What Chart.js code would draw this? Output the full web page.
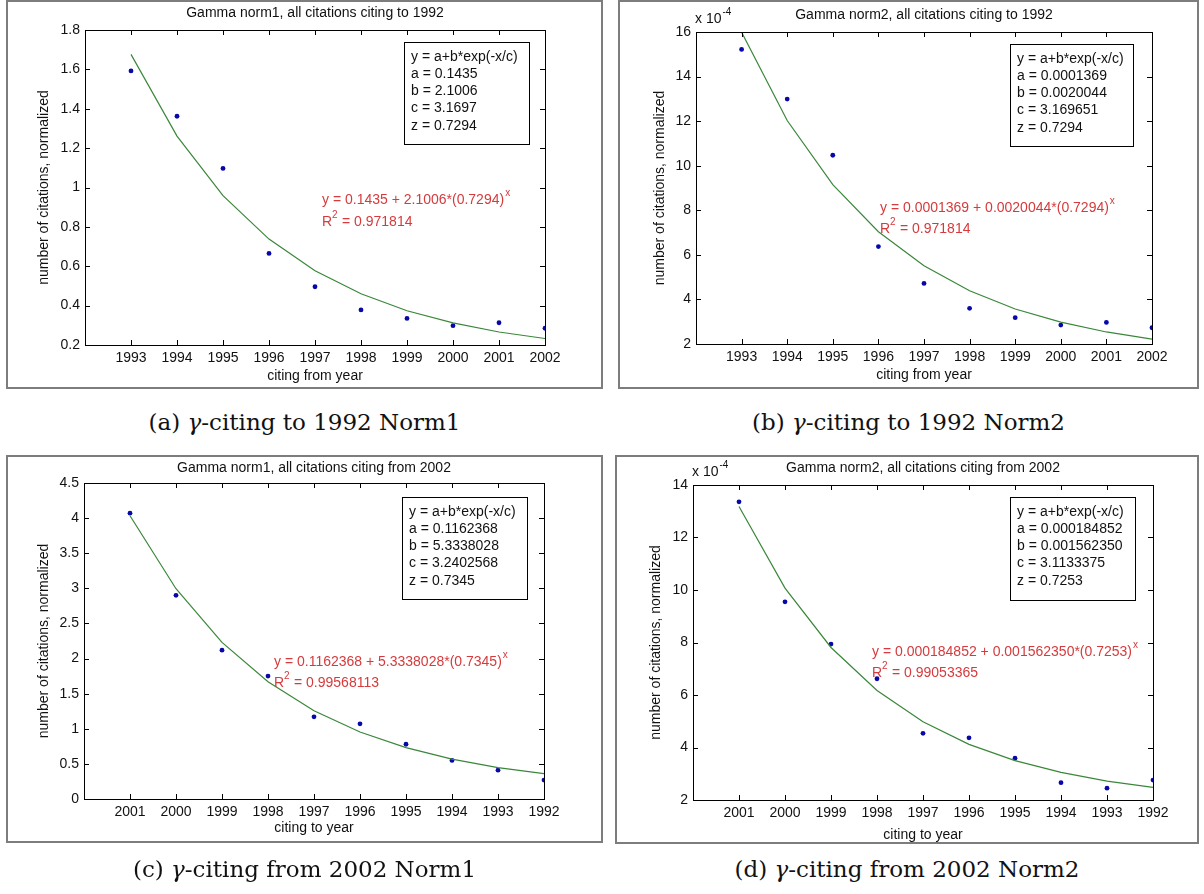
<!DOCTYPE html>
<html>
<head>
<meta charset="utf-8">
<script src="https://cdn.jsdelivr.net/npm/chart.js@4.4.1/dist/chart.umd.min.js"></script>
<style>
  body { margin: 0; background: #fff; width: 1204px; height: 894px; overflow: hidden; position: relative; }
  canvas { position: absolute; }
  .frame { position: absolute; box-sizing: border-box; border: 2px solid #7d7d7d; pointer-events: none; }
  .cap { position: absolute; width: 600px; margin-left: -300px; text-align: center; white-space: nowrap;
         font-family: "DejaVu Serif", serif; font-size: 23px; line-height: 23px; color: #111; }
</style>
</head>
<body>
<script>
// years on the x axes
const yearsFrom1993 = [1993, 1994, 1995, 1996, 1997, 1998, 1999, 2000, 2001, 2002];
const yearsTo2001 = [2001, 2000, 1999, 1998, 1997, 1996, 1995, 1994, 1993, 1992];

// (a) norm1, citing to 1992
const norm1To1992 = [1.592, 1.362, 1.097, 0.665, 0.496, 0.378, 0.335, 0.298, 0.313, 0.285];
const norm1To1992Fit = [1.676, 1.261, 0.959, 0.738, 0.577, 0.460, 0.374, 0.312, 0.266, 0.233];
// (b) norm2, citing to 1992 (units of 1e-4)
const norm2To1992 = [15.22, 12.99, 10.47, 6.37, 4.72, 3.60, 3.18, 2.85, 2.97, 2.73];
const norm2To1992Fit = [15.99, 12.03, 9.15, 7.04, 5.51, 4.39, 3.57, 2.98, 2.54, 2.22];
// (c) norm1, citing from 2002
const norm1From2002 = [4.07, 2.90, 2.12, 1.75, 1.17, 1.07, 0.78, 0.55, 0.41, 0.27];
const norm1From2002Fit = [4.034, 2.994, 2.230, 1.669, 1.256, 0.954, 0.731, 0.568, 0.448, 0.360];
// (d) norm2, citing from 2002 (units of 1e-4)
const norm2From2002 = [13.36, 9.55, 7.94, 6.62, 4.54, 4.37, 3.59, 2.66, 2.45, 2.76];
const norm2From2002Fit = [13.18, 10.07, 7.81, 6.17, 4.98, 4.12, 3.50, 3.05, 2.72, 2.48];

// y tick labels
const yTicksA = [0.2, 0.4, 0.6, 0.8, 1, 1.2, 1.4, 1.6, 1.8];
const yTicksB = [2, 4, 6, 8, 10, 12, 14, 16];
const yTicksC = [0, 0.5, 1, 1.5, 2, 2.5, 3, 3.5, 4, 4.5];
const yTicksD = [2, 4, 6, 8, 10, 12, 14];

// fit text
const fitA = ['y = a+b*exp(-x/c)', 'a = 0.1435', 'b = 2.1006', 'c = 3.1697', 'z = 0.7294'];
const fitB = ['y = a+b*exp(-x/c)', 'a = 0.0001369', 'b = 0.0020044', 'c = 3.169651', 'z = 0.7294'];
const fitC = ['y = a+b*exp(-x/c)', 'a = 0.1162368', 'b = 5.3338028', 'c = 3.2402568', 'z = 0.7345'];
const fitD = ['y = a+b*exp(-x/c)', 'a = 0.000184852', 'b = 0.001562350', 'c = 3.1133375', 'z = 0.7253'];
const eqA = ['y = 0.1435 + 2.1006*(0.7294)', '0.971814'];
const eqB = ['y = 0.0001369 + 0.0020044*(0.7294)', '0.971814'];
const eqC = ['y = 0.1162368 + 5.3338028*(0.7345)', '0.99568113'];
const eqD = ['y = 0.000184852 + 0.001562350*(0.7253)', '0.99053365'];

const FONT = '"Liberation Sans", Arial, Helvetica, sans-serif';
const RED = '#d63a3c';

const matlab = {
  id: 'matlab',
  afterDraw(chart, args, o) {
    const { ctx, chartArea: a, scales: { x, y } } = chart;
    ctx.save();
    ctx.strokeStyle = '#000';
    ctx.lineWidth = 1;
    ctx.beginPath();
    x.ticks.forEach(t => {
      const px = Math.round(x.getPixelForValue(t.value)) + 0.5;
      ctx.moveTo(px, a.bottom); ctx.lineTo(px, a.bottom - 5);
      ctx.moveTo(px, a.top); ctx.lineTo(px, a.top + 5);
    });
    y.ticks.forEach(t => {
      const py = Math.round(y.getPixelForValue(t.value)) + 0.5;
      ctx.moveTo(a.left, py); ctx.lineTo(a.left + 5, py);
      ctx.moveTo(a.right, py); ctx.lineTo(a.right - 5, py);
    });
    ctx.stroke();
    ctx.strokeRect(Math.round(a.left) + 0.5, Math.round(a.top) + 0.5,
      Math.round(a.right - a.left), Math.round(a.bottom - a.top));

    ctx.fillStyle = '#111';
    ctx.font = '14px ' + FONT;
    ctx.textAlign = 'center';
    ctx.textBaseline = 'middle';
    const cx = (a.left + a.right) / 2;
    ctx.fillText(o.title, cx, a.top - o.titleGap);
    ctx.fillText(o.xlabel, cx, a.bottom + o.xlabelGap);
    ctx.save();
    ctx.translate(a.left - o.ylabelGap, (a.top + a.bottom) / 2);
    ctx.rotate(-Math.PI / 2);
    ctx.fillText(o.ylabel, 0, 0);
    ctx.restore();

    ctx.textAlign = 'left';
    ctx.textBaseline = 'alphabetic';
    if (o.exponent) {
      const [ex, ey] = o.exponent;
      ctx.fillText('x 10', ex, ey);
      const w = ctx.measureText('x 10').width;
      ctx.font = '10px ' + FONT;
      ctx.fillText('-4', ex + w + 1, ey - 8);
      ctx.font = '14px ' + FONT;
    }

    // fit box
    const [bl, bt, br, bb] = o.box;
    ctx.fillStyle = '#fff';
    ctx.fillRect(bl, bt, br - bl, bb - bt);
    ctx.strokeRect(bl + 0.5, bt + 0.5, br - bl, bb - bt);
    ctx.fillStyle = '#111';
    ctx.textBaseline = 'middle';
    o.fit.forEach((s, i) => ctx.fillText(s, bl + 7, bt + 15 + i * 17.2));

    // red equation
    const [rx, r1, r2] = o.eqPos;
    ctx.textBaseline = 'alphabetic';
    ctx.fillStyle = RED;
    ctx.fillText(o.eq[0], rx, r1);
    let w = ctx.measureText(o.eq[0]).width;
    ctx.font = '10px ' + FONT;
    ctx.fillText('x', rx + w + 1, r1 - 8);
    ctx.font = '14px ' + FONT;
    ctx.fillText('R', rx, r2);
    w = ctx.measureText('R').width;
    ctx.font = '10px ' + FONT;
    ctx.fillText('2', rx + w, r2 - 8);
    ctx.font = '14px ' + FONT;
    ctx.fillText(' = ' + o.eq[1], rx + w + 6, r2);
    ctx.restore();
  }
};

const pts = (xs, ys) => xs.map((v, i) => ({ x: v, y: ys[i] }));

function panel(p) {
  const fw = p.frame.r - p.frame.l, fh = p.frame.b - p.frame.t;
  const cv = document.createElement('canvas');
  cv.width = fw; cv.height = fh;
  cv.style.left = p.frame.l + 'px'; cv.style.top = p.frame.t + 'px';
  document.body.appendChild(cv);
  const fr = document.createElement('div');
  fr.className = 'frame';
  Object.assign(fr.style, { left: p.frame.l + 'px', top: p.frame.t + 'px', width: fw + 'px', height: fh + 'px' });
  document.body.appendChild(fr);
  const cap = document.createElement('div');
  cap.className = 'cap';
  cap.innerHTML = p.caption;
  cap.style.left = p.capPos[0] + 'px'; cap.style.top = p.capPos[1] + 'px';
  document.body.appendChild(cap);

  const tickFont = { family: FONT, size: 14 };
  const o = p.opts;
  o.box = o.box.map((v, i) => v - (i % 2 ? p.frame.t : p.frame.l));
  o.eqPos = [o.eqPos[0] - p.frame.l, o.eqPos[1] - p.frame.t, o.eqPos[2] - p.frame.t];
  if (o.exponent) o.exponent = [o.exponent[0] - p.frame.l, o.exponent[1] - p.frame.t];

  new Chart(cv.getContext('2d'), {
    type: 'scatter',
    data: {
      datasets: [
        {
          type: 'line', data: pts(p.years, p.fit), borderColor: '#3a873a', borderWidth: 1.2,
          pointRadius: 0, tension: 0, fill: false,
        },
        {
          data: pts(p.years, p.values), backgroundColor: '#0808a8', borderColor: '#0808a8',
          pointRadius: 2.4, borderWidth: 0,
        },
      ],
    },
    options: {
      responsive: false,
      animation: false,
      devicePixelRatio: 1,
      events: [],
      layout: { padding: { top: p.plot.t - p.frame.t, right: p.frame.r - p.plot.r, left: 0, bottom: 0 } },
      plugins: { legend: { display: false }, tooltip: { enabled: false }, matlab: o },
      scales: {
        x: {
          type: 'linear', min: 1992, max: 2002, reverse: p.reverse,
          grid: { display: false, drawTicks: false, tickLength: 0 },
          border: { display: false },
          afterBuildTicks: s => { s.ticks = p.years.slice().sort((m, n) => m - n).map(v => ({ value: v })); },
          afterFit: s => { s.height = p.frame.b - p.plot.b; },
          ticks: { autoSkip: false, maxRotation: 0, padding: 5, color: '#111', font: tickFont, callback: v => String(v) },
        },
        y: {
          min: p.yTicks[0], max: p.yTicks[p.yTicks.length - 1],
          grid: { display: false, drawTicks: false, tickLength: 0 },
          border: { display: false },
          afterBuildTicks: s => { s.ticks = p.yTicks.map(v => ({ value: v })); },
          afterFit: s => { s.width = p.plot.l - p.frame.l; },
          ticks: { autoSkip: false, padding: 5, color: '#111', font: tickFont, callback: v => String(parseFloat(v.toFixed(2))) },
        },
      },
    },
    plugins: [matlab],
  });
}

panel({
  frame: { l: 6, t: 0, r: 603, b: 389 }, plot: { l: 85, t: 30, r: 545, b: 345 },
  years: yearsFrom1993, values: norm1To1992, fit: norm1To1992Fit, yTicks: yTicksA, reverse: false,
  caption: '(a) <i>γ</i>-citing to 1992 Norm1', capPos: [304.5, 411],
  opts: {
    title: 'Gamma norm1, all citations citing to 1992', titleGap: 17,
    xlabel: 'citing from year', xlabelGap: 31, ylabel: 'number of citations, normalized', ylabelGap: 41,
    box: [404, 42, 529, 144], fit: fitA, eq: eqA, eqPos: [322, 204, 226],
  },
});
panel({
  frame: { l: 618, t: 0, r: 1199, b: 389 }, plot: { l: 696, t: 32, r: 1152, b: 344 },
  years: yearsFrom1993, values: norm2To1992, fit: norm2To1992Fit, yTicks: yTicksB, reverse: false,
  caption: '(b) <i>γ</i>-citing to 1992 Norm2', capPos: [908.5, 411],
  opts: {
    title: 'Gamma norm2, all citations citing to 1992', titleGap: 17,
    xlabel: 'citing from year', xlabelGap: 31, ylabel: 'number of citations, normalized', ylabelGap: 36,
    box: [1010, 44, 1133, 146], fit: fitB, eq: eqB, eqPos: [880, 212, 233], exponent: [695, 23],
  },
});
panel({
  frame: { l: 6, t: 455, r: 603, b: 843 }, plot: { l: 84, t: 483, r: 544, b: 799 },
  years: yearsTo2001, values: norm1From2002, fit: norm1From2002Fit, yTicks: yTicksC, reverse: true,
  caption: '(c) <i>γ</i>-citing from 2002 Norm1', capPos: [304.5, 858],
  opts: {
    title: 'Gamma norm1, all citations citing from 2002', titleGap: 15,
    xlabel: 'citing to year', xlabelGap: 29, ylabel: 'number of citations, normalized', ylabelGap: 40,
    box: [402, 497, 527, 599], fit: fitC, eq: eqC, eqPos: [274, 666, 687],
  },
});
panel({
  frame: { l: 615, t: 455, r: 1199, b: 844 }, plot: { l: 693, t: 485, r: 1153, b: 800 },
  years: yearsTo2001, values: norm2From2002, fit: norm2From2002Fit, yTicks: yTicksD, reverse: true,
  caption: '(d) <i>γ</i>-citing from 2002 Norm2', capPos: [907, 858],
  opts: {
    title: 'Gamma norm2, all citations citing from 2002', titleGap: 17,
    xlabel: 'citing to year', xlabelGap: 35, ylabel: 'number of citations, normalized', ylabelGap: 37,
    box: [1010, 497, 1135, 600], fit: fitD, eq: eqD, eqPos: [872, 656, 677], exponent: [692, 476],
  },
});
</script>
</body>
</html>
